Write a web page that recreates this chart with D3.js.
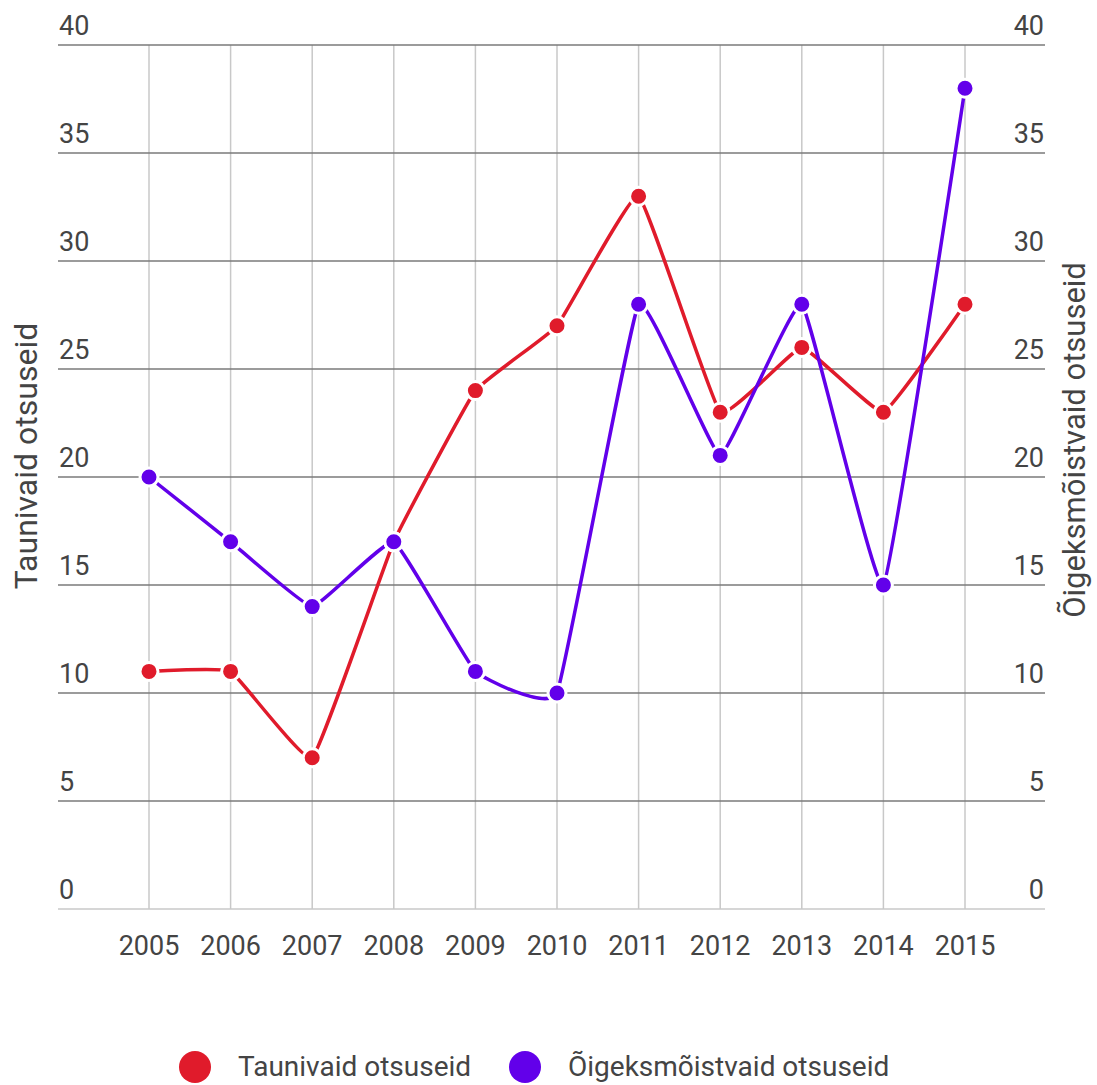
<!DOCTYPE html>
<html>
<head>
<meta charset="utf-8">
<script src="https://cdn.jsdelivr.net/npm/d3@7"></script>
<style>
  body { margin: 0; background: #fff; }
  svg text { font-family: Roboto, "Noto Sans", sans-serif; fill: #444; }
</style>
</head>
<body>
<div id="chart"></div>
<script>
const years = [2005, 2006, 2007, 2008, 2009, 2010, 2011, 2012, 2013, 2014, 2015];
const taunivaid = [11, 11, 7, 17, 24, 27, 33, 23, 26, 23, 28];
const oigeks = [20, 17, 14, 17, 11, 10, 28, 21, 28, 15, 38];
const yTicks = [0, 5, 10, 15, 20, 25, 30, 35, 40];

const seriesNames = ['Taunivaid otsuseid', 'Õigeksmõistvaid otsuseid'];
const colors = ['#e01b2b', '#6200ea'];

const width = 1097, height = 1085;
const svg = d3.select('#chart').append('svg')
    .attr('width', width)
    .attr('height', height);

const x = d3.scalePoint().domain(years).range([149, 965]);
const y = d3.scaleLinear().domain([0, 40]).range([909, 45]);
const left = 58, right = 1045;

// vertical gridlines
svg.append('g')
    .selectAll('line')
    .data(years)
    .join('line')
    .attr('x1', d => x(d)).attr('x2', d => x(d))
    .attr('y1', y(40)).attr('y2', y(0))
    .attr('stroke', '#c8c8c8')
    .attr('stroke-width', 1.5);

// horizontal gridlines
svg.append('g')
    .selectAll('line')
    .data(yTicks)
    .join('line')
    .attr('x1', left).attr('x2', right)
    .attr('y1', d => y(d)).attr('y2', d => y(d))
    .attr('stroke', d => d === 0 ? '#c8c8c8' : '#7a7a7a')
    .attr('stroke-width', 1.5);

// tick labels
svg.append('g')
    .selectAll('text')
    .data(yTicks)
    .join('text')
    .attr('x', left + 1)
    .attr('y', d => y(d) - 10)
    .attr('font-size', 27)
    .text(d => d);

svg.append('g')
    .selectAll('text')
    .data(yTicks)
    .join('text')
    .attr('x', right - 1)
    .attr('y', d => y(d) - 10)
    .attr('text-anchor', 'end')
    .attr('font-size', 27)
    .text(d => d);

svg.append('g')
    .selectAll('text')
    .data(years)
    .join('text')
    .attr('x', d => x(d))
    .attr('y', 955)
    .attr('text-anchor', 'middle')
    .attr('font-size', 27)
    .text(d => d);

// axis titles
svg.append('text')
    .attr('transform', `translate(37 456) rotate(-90)`)
    .attr('text-anchor', 'middle')
    .attr('font-size', 32)
    .text(seriesNames[0]);

svg.append('text')
    .attr('transform', `translate(1085 440) rotate(-90)`)
    .attr('text-anchor', 'middle')
    .attr('font-size', 31)
    .text(seriesNames[1]);

// lines and points
const line = d3.line()
    .x((d, i) => x(years[i]))
    .y(d => y(d))
    .curve(d3.curveCardinal.tension(0.7));

[taunivaid, oigeks].forEach((vals, k) => {
    svg.append('path')
        .datum(vals)
        .attr('d', line)
        .attr('fill', 'none')
        .attr('stroke', colors[k])
        .attr('stroke-width', 3.5);
});

[taunivaid, oigeks].forEach((vals, k) => {
    svg.append('g')
        .selectAll('circle')
        .data(vals)
        .join('circle')
        .attr('cx', (d, i) => x(years[i]))
        .attr('cy', d => y(d))
        .attr('r', 9)
        .attr('fill', colors[k])
        .attr('stroke', '#fff')
        .attr('stroke-width', 3);
});

// legend
const legendX = [195, 525];
const legend = svg.append('g');
seriesNames.forEach((name, k) => {
    legend.append('circle')
        .attr('cx', legendX[k])
        .attr('cy', 1067)
        .attr('r', 16)
        .attr('fill', colors[k]);
    legend.append('text')
        .attr('x', legendX[k] + 43)
        .attr('y', 1076)
        .attr('font-size', 28)
        .text(name);
});
</script>
</body>
</html>
